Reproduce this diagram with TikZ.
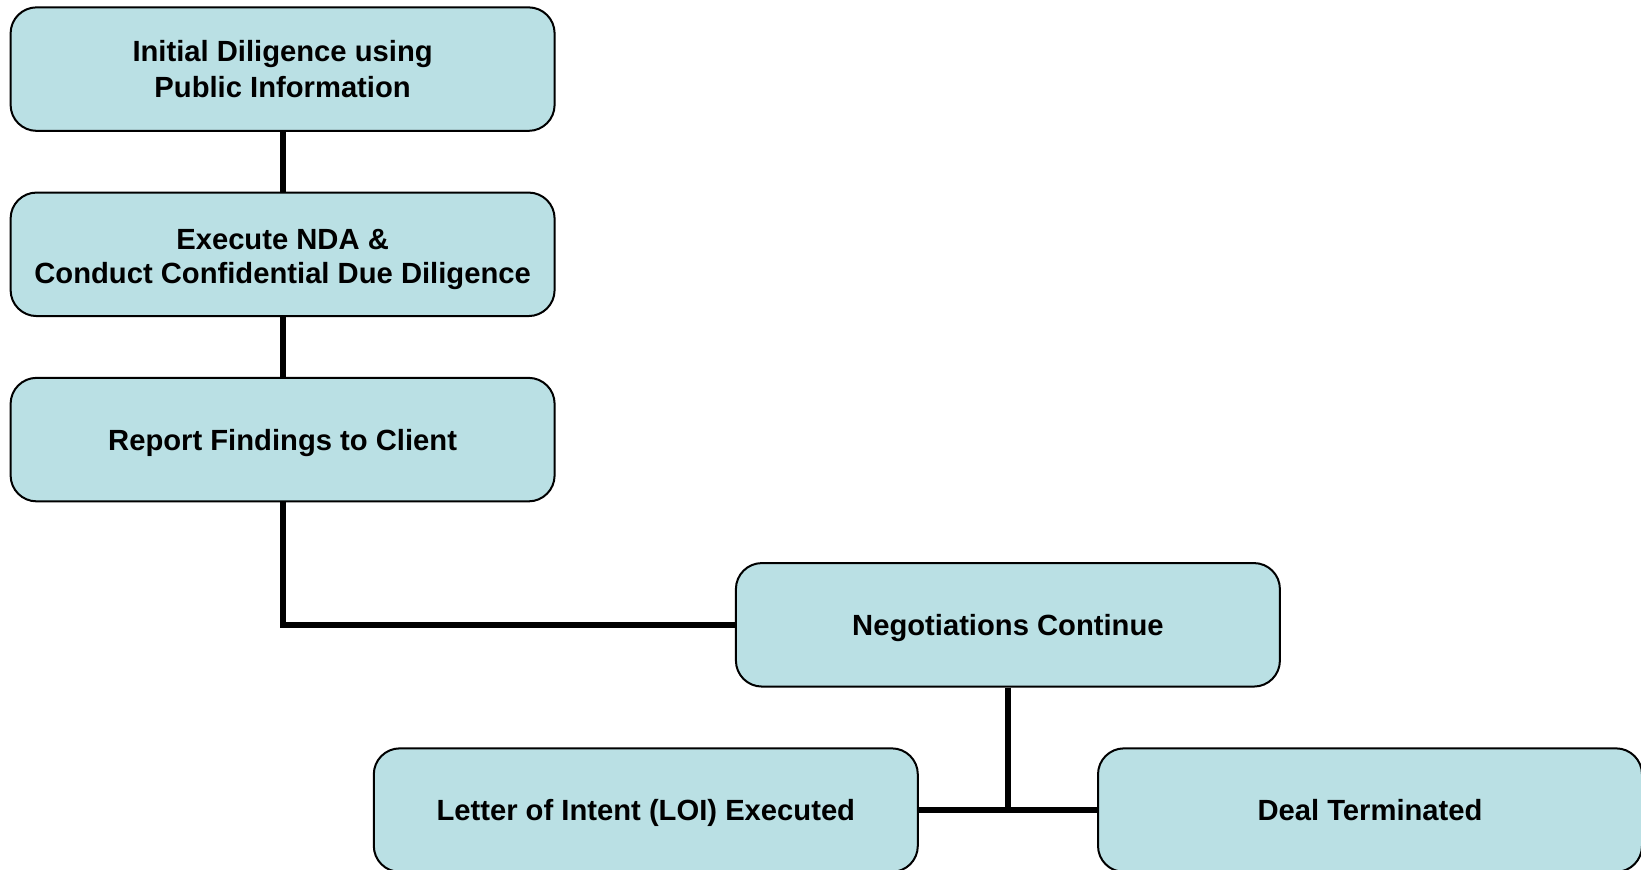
\documentclass[tikz,border=0pt]{standalone}
\usepackage{fontspec}
\setmainfont{Liberation Sans}
\definecolor{boxfill}{RGB}{186,224,228}
\begin{document}
\begin{tikzpicture}[x=0.5pt,y=-0.5pt,
  stepbox/.style={draw=black, line width=1pt, fill=boxfill, rounded corners=13pt,
    minimum width=272pt, minimum height=61.75pt, align=center, inner sep=0pt,
    text height=10.5pt, text depth=0pt,
    font=\fontsize{14.6}{18.3}\selectfont\bfseries},
  twoline/.style={text height=28.8pt, text depth=0pt},
  conn/.style={line width=3pt, black}]
\useasboundingbox (0,0) rectangle (1641,869);
\node[stepbox, twoline] (b1) at (282.6,69.1) {Initial Diligence using\\Public Information};
\node[stepbox, twoline, text height=29.3pt, font=\fontsize{14.6}{17.3}\selectfont\bfseries] (b2) at (282.6,254.3) {Execute NDA \&\\Conduct Confidential Due Diligence};
\node[stepbox] (b3) at (282.6,439.6) {Report Findings to Client};
\node[stepbox] (b4) at (1007.9,624.8) {Negotiations Continue};
\node[stepbox] (b5) at (645.8,810.1) {Letter of Intent (LOI) Executed};
\node[stepbox] (b6) at (1370,810.1) {Deal Terminated};
\draw[conn] (b1.south) -- (b2.north);
\draw[conn] (b2.south) -- (b3.north);
\draw[conn] (b3.south) |- (b4.west);
\draw[conn] (b5.east) -- (b6.west);
\draw[conn] (b4.south) -- (b4.south |- b5.east);
\end{tikzpicture}
\end{document}
